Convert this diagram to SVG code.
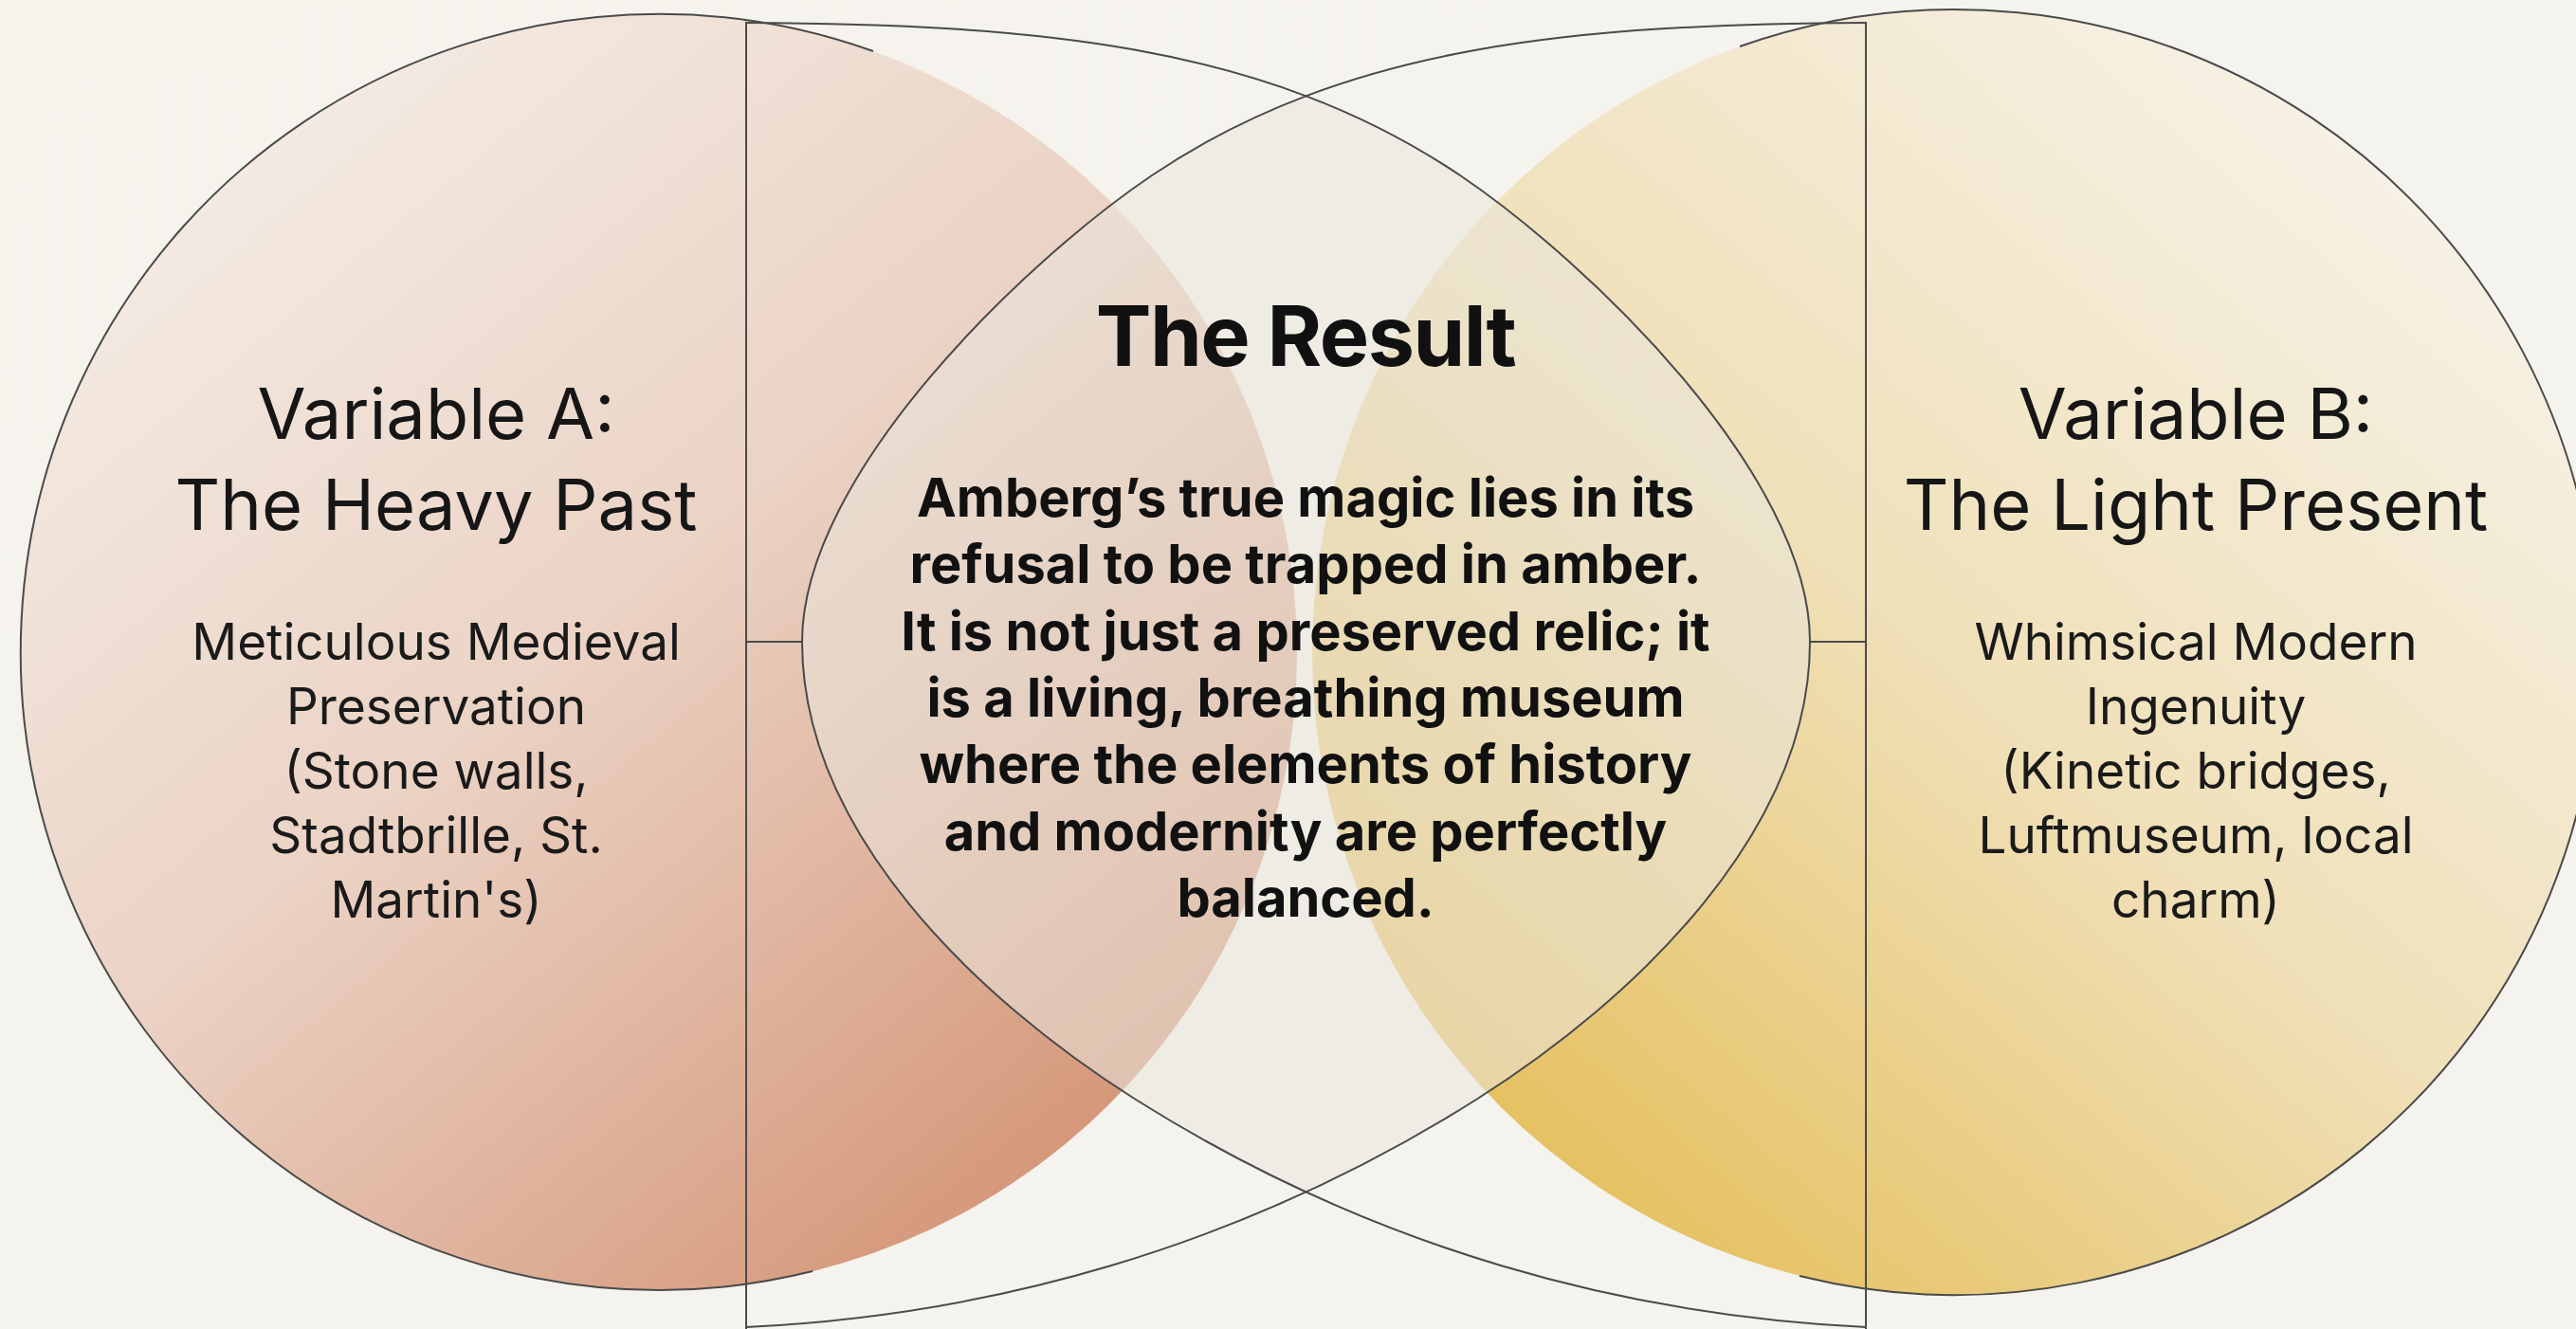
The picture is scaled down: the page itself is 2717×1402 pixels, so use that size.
<svg xmlns="http://www.w3.org/2000/svg" xmlns:xlink="http://www.w3.org/1999/xlink" width="2717" height="1402" viewBox="0 0 2717 1402">
  <defs>
    <linearGradient id="bgGrad" x1="0" y1="0" x2="1" y2="1">
      <stop offset="0" stop-color="#F5F3EC"/>
      <stop offset="1" stop-color="#F4F3EE"/>
    </linearGradient>
    <linearGradient id="pinkGrad" gradientUnits="userSpaceOnUse" x1="230" y1="120" x2="1180" y2="1260">
      <stop offset="0" stop-color="#F4ECE4"/>
      <stop offset="0.45" stop-color="#EBD3C5"/>
      <stop offset="1" stop-color="#D39273"/>
    </linearGradient>
    <linearGradient id="yellowGrad" gradientUnits="userSpaceOnUse" x1="2520" y1="180" x2="1600" y2="1250">
      <stop offset="0" stop-color="#F6F1E5"/>
      <stop offset="0.5" stop-color="#F0E0B8"/>
      <stop offset="1" stop-color="#E5BF5C"/>
    </linearGradient>
    <path id="lensHalf" d="M787 24 C1087 26 1332.5 45 1540 185 C1672.8 274.6 1909 500 1909 677 C1909 877 1726 1053 1557 1160 C1303 1320 1037 1388 787 1400"/>
    <clipPath id="clipLensA">
      <path d="M787 24 C1087 26 1332.5 45 1540 185 C1672.8 274.6 1909 500 1909 677 C1909 877 1726 1053 1557 1160 C1303 1320 1037 1388 787 1400 Z"/>
    </clipPath>
  </defs>
  <style>
    .outline { fill: none; stroke: #4a4a4a; stroke-width: 2; }
    .title { font-family: Inter, "Liberation Sans", sans-serif; font-size: 74px; font-weight: 400; fill: #161616; text-anchor: middle; }
    .sub { font-family: Inter, "Liberation Sans", sans-serif; font-size: 53px; font-weight: 400; fill: #1a1a1a; text-anchor: middle; }
    .rtitle { font-family: Inter, "Liberation Sans", sans-serif; font-size: 88px; font-weight: 700; letter-spacing: -1.5px; fill: #111111; text-anchor: middle; }
    .body { font-family: Inter, "Liberation Sans", sans-serif; font-size: 56px; font-weight: 700; fill: #111111; text-anchor: middle; }
  </style>

  <rect x="0" y="0" width="2717" height="1402" fill="url(#bgGrad)"/>

  <g id="node-a">
    <circle cx="695" cy="688" r="673" fill="url(#pinkGrad)"/>
  </g>
  <g id="node-b">
    <circle cx="2062" cy="688" r="678" fill="url(#yellowGrad)"/>
  </g>
  <g id="node-result">
    <g clip-path="url(#clipLensA)">
      <path d="M787 24 C1087 26 1332.5 45 1540 185 C1672.8 274.6 1909 500 1909 677 C1909 877 1726 1053 1557 1160 C1303 1320 1037 1388 787 1400 Z" transform="translate(2755,0) scale(-1,1)" fill="#EAE6DC" fill-opacity="0.55"/>
    </g>
  </g>

  <g id="connectors" class="outline">
    <path d="M921 54 A673 673 0 1 0 857 1341"/>
    <path d="M1835 49 A678 678 0 1 1 1898 1346"/>
    <use xlink:href="#lensHalf"/>
    <use xlink:href="#lensHalf" transform="translate(2755,0) scale(-1,1)"/>
    <line x1="787" y1="23" x2="787" y2="1402"/>
    <line x1="1968" y1="23" x2="1968" y2="1402"/>
    <line x1="787" y1="677" x2="846" y2="677"/>
    <line x1="1909" y1="677" x2="1968" y2="677"/>
  </g>

  <g id="text-a">
    <text class="title" x="460" y="463">Variable A:</text>
    <text class="title" x="460" y="559">The Heavy Past</text>
    <text class="sub" x="460" y="696">Meticulous Medieval</text>
    <text class="sub" x="460" y="764">Preservation</text>
    <text class="sub" x="460" y="832">(Stone walls,</text>
    <text class="sub" x="460" y="900">Stadtbrille, St.</text>
    <text class="sub" x="460" y="968">Martin's)</text>
  </g>
  <g id="text-b">
    <text class="title" x="2316" y="463">Variable B:</text>
    <text class="title" x="2316" y="559">The Light Present</text>
    <text class="sub" x="2316" y="696">Whimsical Modern</text>
    <text class="sub" x="2316" y="764">Ingenuity</text>
    <text class="sub" x="2316" y="832">(Kinetic bridges,</text>
    <text class="sub" x="2316" y="900">Luftmuseum, local</text>
    <text class="sub" x="2316" y="968">charm)</text>
  </g>
  <g id="text-result">
    <text class="rtitle" x="1377" y="386">The Result</text>
    <text class="body" x="1377" y="545">Amberg’s true magic lies in its</text>
    <text class="body" x="1377" y="615">refusal to be trapped in amber.</text>
    <text class="body" x="1377" y="686">It is not just a preserved relic; it</text>
    <text class="body" x="1377" y="756">is a living, breathing museum</text>
    <text class="body" x="1377" y="826">where the elements of history</text>
    <text class="body" x="1377" y="897">and modernity are perfectly</text>
    <text class="body" x="1377" y="967">balanced.</text>
  </g>
</svg>
